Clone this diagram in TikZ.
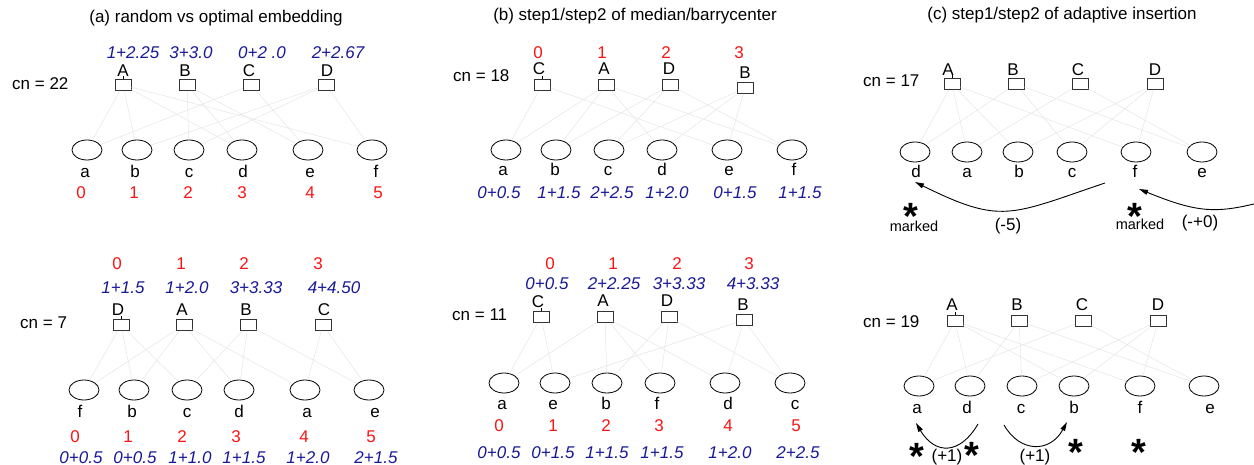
\documentclass[tikz,border=0pt]{standalone}
\usepackage{fontspec}
\setmainfont{Liberation Sans}
\usetikzlibrary{shapes.geometric,arrows.meta}
\definecolor{numred}{RGB}{250,20,20}
\definecolor{numblue}{RGB}{25,25,150}
\newcommand\myfs[1]{\fontsize{#1}{#1}\selectfont}
\newcommand\UN[6]{\node[ub] (#1#2) at (#3,#4) {}; \node[txt] (#1#2t) at (#5,#6) {#2};}
\newcommand\LN[6]{\node[lb] (#1#2) at (#3,#4) {}; \node[txt] (#1#2t) at (#5,#6) {#2};}
\newcommand\RN[4]{\node[rednum] (#1) at (#2,#3) {#4};}
\newcommand\BN[4]{\node[bluenum] (#1) at (#2,#3) {#4};}
\newcommand\AST[3]{\node[asterisk] (#1) at (#2,#3) {\raisebox{-0.57em}{\smash{*}}};}
\newcommand\EDGES[1]{\foreach \u/\l in {A/a,A/b,A/d,A/f,B/c,B/d,B/e,C/a,C/e,D/b,D/c,D/f} \draw[ed] (#1\u) -- (#1\l);}
\begin{document}
\begin{tikzpicture}[x=1pt,y=-1pt,
  ub/.style={draw=black!80, line width=0.8pt, minimum width=16pt, minimum height=11pt, inner sep=0pt},
  lb/.style={ellipse, draw=black, line width=0.8pt, minimum width=30pt, minimum height=20pt, inner sep=0pt},
  ed/.style={draw=black!10, line width=0.5pt},
  txt/.style={font=\myfs{17}, anchor=base, inner sep=0pt},
  cntxt/.style={txt, anchor=base west},
  ttl/.style={txt},
  rednum/.style={txt, text=numred},
  bluenum/.style={txt, text=numblue, font=\myfs{17}\itshape},
  small/.style={txt, font=\myfs{14.5}},
  asterisk/.style={inner sep=0pt, font=\myfs{38}\bfseries, text height=6pt, text depth=6pt},
  tick/.style={draw=black, line width=0.8pt},
  arr/.style={draw=black, line width=0.9pt, -{Triangle[length=9pt,width=5pt]}}
]
\useasboundingbox (0,0) rectangle (1254,465);

% ---------------- panel (a) top
\node[ttl] (ta) at (216,23) {(a) random vs optimal embedding};
\node[cntxt] (p1cn) at (12,90) {cn = 22};
\BN{p1vA}{133}{59}{1+2.25}
\BN{p1vB}{191}{59}{3+3.0}
\BN{p1vC}{262}{59}{0+2 .0}
\BN{p1vD}{338}{59}{2+2.67}
\UN{p1}{A}{123}{85}{123}{77}
\UN{p1}{B}{187}{85}{185}{77}
\UN{p1}{C}{251}{85}{249}{77}
\UN{p1}{D}{326}{85}{327}{77}
\draw[tick] (p1A.north) -- ++(0,-3);
\LN{p1}{a}{87}{150}{85}{178}
\LN{p1}{b}{137}{150}{135}{178}
\LN{p1}{c}{189}{150}{189}{178}
\LN{p1}{d}{242}{150}{243}{178}
\LN{p1}{e}{308}{150}{310}{178}
\LN{p1}{f}{372}{150}{376}{178}
\RN{p1r0}{81}{199}{0}
\RN{p1r1}{134}{199}{1}
\RN{p1r2}{188}{199}{2}
\RN{p1r3}{242}{199}{3}
\RN{p1r4}{310}{199}{4}
\RN{p1r5}{378}{199}{5}
\EDGES{p1}

% ---------------- panel (a) bottom
\node[cntxt] (p2cn) at (20,329) {cn = 7};
\RN{p2u0}{117}{270}{0}
\RN{p2u1}{181}{270}{1}
\RN{p2u2}{244}{270}{2}
\RN{p2u3}{318}{270}{3}
\BN{p2vD}{123}{294}{1+1.5}
\BN{p2vA}{187}{294}{1+2.0}
\BN{p2vB}{256}{294}{3+3.33}
\BN{p2vC}{334}{294}{4+4.50}
\UN{p2}{D}{121}{325}{118}{316}
\UN{p2}{A}{184}{325}{182}{316}
\UN{p2}{B}{248}{325}{246}{316}
\UN{p2}{C}{323}{325}{324}{316}
\draw[tick] (p2D.north) -- ++(0,-3);
\LN{p2}{f}{84}{390}{80}{417}
\LN{p2}{b}{134}{390}{132}{417}
\LN{p2}{c}{187}{390}{187}{417}
\LN{p2}{d}{239}{390}{239}{417}
\LN{p2}{a}{305}{390}{307}{417}
\LN{p2}{e}{369}{390}{375}{417}
\RN{p2r0}{75}{442}{0}
\RN{p2r1}{128}{442}{1}
\RN{p2r2}{182}{442}{2}
\RN{p2r3}{236}{442}{3}
\RN{p2r4}{304}{442}{4}
\RN{p2r5}{371}{442}{5}
\BN{p2vf}{81}{463}{0+0.5}
\BN{p2vb}{135}{463}{0+0.5}
\BN{p2vc}{190}{463}{1+1.0}
\BN{p2vd}{244}{463}{1+1.5}
\BN{p2va}{308}{463}{1+2.0}
\BN{p2ve}{376}{463}{2+1.5}
\EDGES{p2}

% ---------------- panel (b) top
\node[ttl] (tb) at (635,21) {(b) step1/step2 of median/barrycenter};
\node[cntxt] (p3cn) at (453,82) {cn = 18};
\RN{p3u0}{538}{59}{0}
\RN{p3u1}{602}{59}{1}
\RN{p3u2}{666}{59}{2}
\RN{p3u3}{739}{59}{3}
\UN{p3}{C}{542}{85}{539}{75}
\UN{p3}{A}{606}{85}{604}{75}
\UN{p3}{D}{670}{85}{669}{75}
\UN{p3}{B}{745}{88}{745}{79}
\draw[tick] (p3C.north) -- ++(0,-3);
\LN{p3}{a}{506}{150}{503}{176}
\LN{p3}{b}{556}{150}{555}{176}
\LN{p3}{c}{609}{150}{608}{176}
\LN{p3}{d}{662}{150}{662}{176}
\LN{p3}{e}{727}{150}{729}{176}
\LN{p3}{f}{792}{150}{794}{176}
\BN{p3va}{499}{199}{0+0.5}
\BN{p3vb}{559}{199}{1+1.5}
\BN{p3vc}{612}{199}{2+2.5}
\BN{p3vd}{667}{199}{1+2.0}
\BN{p3ve}{735}{199}{0+1.5}
\BN{p3vf}{800}{199}{1+1.5}
\EDGES{p3}

% ---------------- panel (b) bottom
\node[cntxt] (p4cn) at (452,321) {cn = 11};
\RN{p4u0}{550}{270}{0}
\RN{p4u1}{613}{270}{1}
\RN{p4u2}{677}{270}{2}
\RN{p4u3}{749}{270}{3}
\BN{p4vC}{547}{290}{0+0.5}
\BN{p4vA}{614}{290}{2+2.25}
\BN{p4vD}{679}{290}{3+3.33}
\BN{p4vB}{753}{290}{4+3.33}
\UN{p4}{C}{541}{317}{538}{308}
\UN{p4}{A}{605}{317}{603}{306}
\UN{p4}{D}{669}{317}{667}{306}
\UN{p4}{B}{744}{320}{743}{311}
\draw[tick] (p4C.north) -- ++(0,-3);
\LN{p4}{a}{504}{383}{502}{409}
\LN{p4}{e}{555}{383}{553}{409}
\LN{p4}{b}{607}{383}{606}{409}
\LN{p4}{f}{660}{383}{657}{409}
\LN{p4}{d}{725}{383}{728}{409}
\LN{p4}{c}{790}{383}{795}{409}
\RN{p4r0}{499}{431}{0}
\RN{p4r1}{553}{431}{1}
\RN{p4r2}{606}{431}{2}
\RN{p4r3}{659}{431}{3}
\RN{p4r4}{728}{431}{4}
\RN{p4r5}{796}{431}{5}
\BN{p4va}{499}{458}{0+0.5}
\BN{p4ve}{553}{458}{0+1.5}
\BN{p4vb}{607}{458}{1+1.5}
\BN{p4vf}{662}{458}{1+1.5}
\BN{p4vd}{730}{458}{1+2.0}
\BN{p4vc}{798}{458}{2+2.5}
\EDGES{p4}

% ---------------- panel (c) top
\node[ttl] (tc) at (1062,20) {(c) step1/step2 of adaptive insertion};
\node[cntxt] (p5cn) at (863,87) {cn = 17};
\UN{p5}{A}{952}{84}{948}{76}
\UN{p5}{B}{1016}{84}{1013}{76}
\UN{p5}{C}{1080}{84}{1078}{76}
\UN{p5}{D}{1155}{84}{1155}{76}
\draw[tick] (p5A.north) -- ++(0,-3);
\LN{p5}{d}{915}{152}{916}{178}
\LN{p5}{a}{967}{152}{967}{178}
\LN{p5}{b}{1018}{152}{1019}{178}
\LN{p5}{c}{1072}{152}{1072}{178}
\LN{p5}{f}{1136}{152}{1135}{178}
\LN{p5}{e}{1202}{152}{1202}{178}
\EDGES{p5}
\coordinate (m1s) at (1105,183);
\coordinate (m1e) at (915,182);
\draw[arr] (m1s) .. controls (1010,215) and (1002,225) .. (m1e);
\coordinate (m2s) at (1320,186);
\coordinate (m2e) at (1139,189);
\draw[arr] (m2s) .. controls (1225,212) and (1215,220) .. (m2e);
\AST{s1}{911}{208}
\AST{s2}{1135}{208}
\node[small] (mk1) at (914,232) {marked};
\node[small] (mk2) at (1140,230) {marked};
\node[txt] (g1) at (1008,231) {(-5)};
\node[txt] (g2) at (1200,228) {(-+0)};

% ---------------- panel (c) bottom
\node[cntxt] (p6cn) at (863,327) {cn = 19};
\UN{p6}{A}{955}{321}{952}{311}
\UN{p6}{B}{1019}{321}{1017}{311}
\UN{p6}{C}{1083}{321}{1082}{311}
\UN{p6}{D}{1158}{321}{1158}{311}
\draw[tick] (p6A.north) -- ++(0,-3);
\LN{p6}{a}{919}{386}{917}{413}
\LN{p6}{d}{970}{386}{967}{413}
\LN{p6}{c}{1022}{386}{1021}{413}
\LN{p6}{b}{1074}{386}{1074}{413}
\LN{p6}{f}{1140}{386}{1140}{413}
\LN{p6}{e}{1204}{386}{1210}{413}
\EDGES{p6}
\coordinate (m3s) at (978,424);
\coordinate (m3e) at (916,423);
\draw[arr] (m3s) .. controls (960,455) and (935,455) .. (m3e);
\coordinate (m4s) at (1004,425);
\coordinate (m4e) at (1067,422);
\draw[arr] (m4s) .. controls (1020,453) and (1050,453) .. (m4e);
\AST{s3}{917}{448}
\AST{s4}{972}{447}
\AST{s5}{1076}{444}
\AST{s6}{1139}{444}
\node[txt] (g3) at (947,461) {(+1)};
\node[txt] (g4) at (1035,461) {(+1)};
\end{tikzpicture}
\end{document}
